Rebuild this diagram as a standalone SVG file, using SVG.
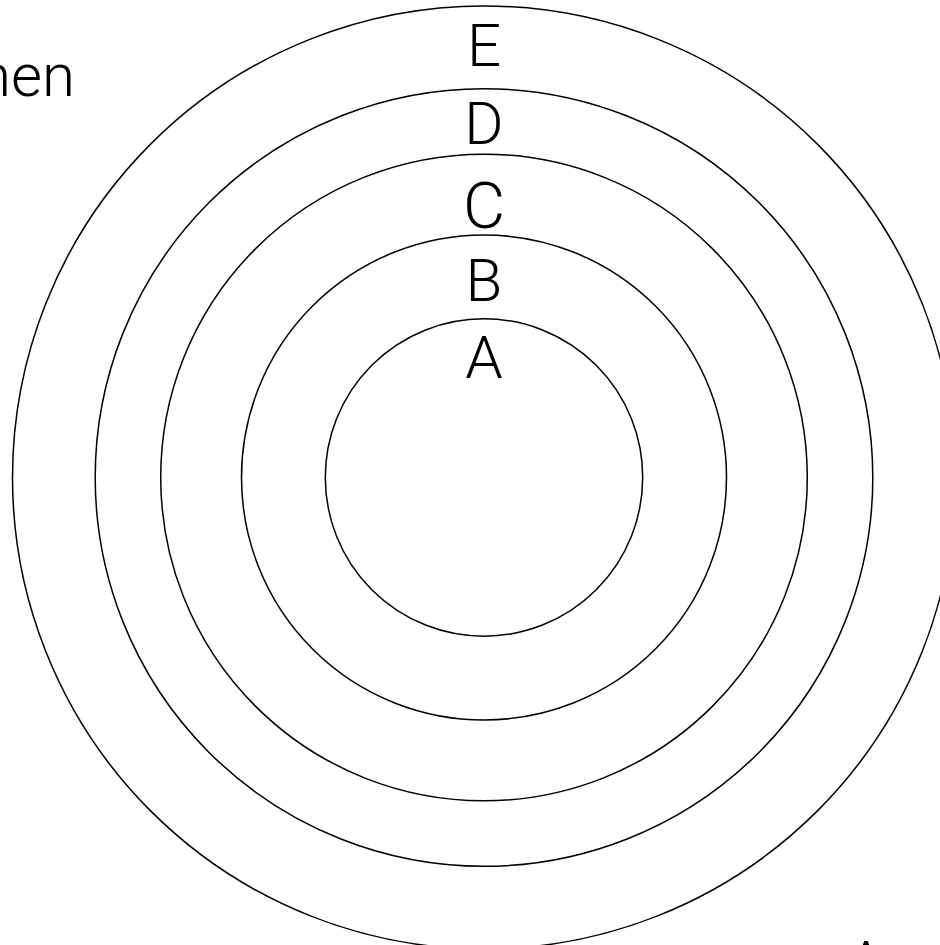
<svg xmlns="http://www.w3.org/2000/svg" width="940" height="945" viewBox="0 0 940 945">
<style>
.ring{fill:none;stroke:#000;stroke-width:1.5}
.lbl{font-family:Roboto,"Liberation Sans",sans-serif;font-weight:300;font-size:60px;fill:#000;text-anchor:middle}
</style>
<rect width="940" height="945" fill="#fff"/>
<g id="ringE"><circle class="ring" cx="484" cy="477.5" r="471.5"/></g>
<g id="ringD"><circle class="ring" cx="484" cy="477.5" r="388.8"/></g>
<g id="ringC"><circle class="ring" cx="484" cy="477.5" r="323.3"/></g>
<g id="ringB"><circle class="ring" cx="484" cy="477.5" r="242.5"/></g>
<g id="ringA"><circle class="ring" cx="484" cy="477.5" r="158.7"/></g>
<g id="labels">
<text class="lbl" x="484" y="66">E</text>
<text class="lbl" x="484" y="144">D</text>
<text class="lbl" x="484" y="228" style="font-size:65px">C</text>
<text class="lbl" x="484" y="301">B</text>
<text class="lbl" x="484" y="378">A</text>
<text class="lbl" x="75" y="96" style="text-anchor:end">nen</text>
<text class="lbl" x="866" y="983">A</text>
</g>
</svg>
